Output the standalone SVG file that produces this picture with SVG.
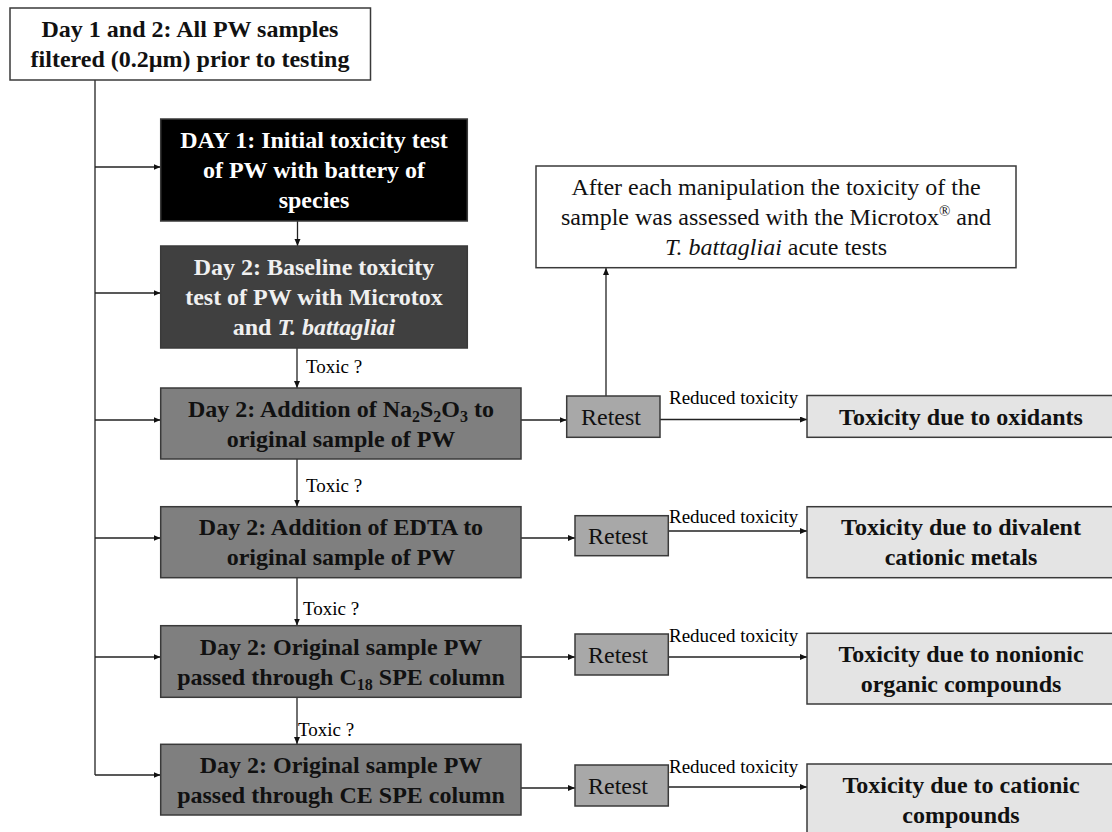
<svg xmlns="http://www.w3.org/2000/svg" width="1112" height="832" viewBox="0 0 1112 832">
  <style>
    text { font-family: "Liberation Serif", "Times New Roman", serif; }
    .b { font-weight: bold; font-size: 24px; text-anchor: middle; }
    .r { font-size: 24px; text-anchor: middle; }
    .lab { font-size: 19px; }
    .box { stroke: #3a3a3a; stroke-width: 1.5; }
    .white { fill: #ffffff; }
    .black { fill: #000000; }
    .dark { fill: #404040; }
    .mid { fill: #7f7f7f; }
    .retest { fill: #a8a8a8; }
    .result { fill: #e4e4e4; }
    .tw { fill: #ffffff; }
    .tl { fill: #f0f0f0; }
    .tk { fill: #111111; }
    .conn path { fill: none; stroke: #222; stroke-width: 1.3; }
  </style>
  <defs>
    <marker id="ah" markerUnits="userSpaceOnUse" markerWidth="8" markerHeight="8" refX="7" refY="3" orient="auto">
      <path d="M0,0 L7,3 L0,6 z" fill="#111"/>
    </marker>
  </defs>
  <rect width="1112" height="832" fill="#ffffff"/>

  <g class="conn">
    <path d="M95,80 V775"/>
    <path d="M95,167 H160.5" marker-end="url(#ah)"/>
    <path d="M95,293 H160.5" marker-end="url(#ah)"/>
    <path d="M95,420 H160.5" marker-end="url(#ah)"/>
    <path d="M95,538 H160.5" marker-end="url(#ah)"/>
    <path d="M95,657 H160.5" marker-end="url(#ah)"/>
    <path d="M95,775 H160.5" marker-end="url(#ah)"/>
    <path d="M297.5,221 V246" marker-end="url(#ah)"/>
    <path d="M297,348 V388" marker-end="url(#ah)"/>
    <path d="M297,459 V506.5" marker-end="url(#ah)"/>
    <path d="M297,577.7 V625.5" marker-end="url(#ah)"/>
    <path d="M297,697.3 V744" marker-end="url(#ah)"/>
    <path d="M521,420 H566.5" marker-end="url(#ah)"/>
    <path d="M521,538 H575" marker-end="url(#ah)"/>
    <path d="M521,657 H575" marker-end="url(#ah)"/>
    <path d="M521,788 H575" marker-end="url(#ah)"/>
    <path d="M660,419.5 H807" marker-end="url(#ah)"/>
    <path d="M668,531 H807" marker-end="url(#ah)"/>
    <path d="M668,657 H807" marker-end="url(#ah)"/>
    <path d="M668,787 H807" marker-end="url(#ah)"/>
    <path d="M606,396 V268" marker-end="url(#ah)"/>
    <text class="lab" x="306" y="373">Toxic ?</text>
    <text class="lab" x="306" y="492">Toxic ?</text>
    <text class="lab" x="303" y="615">Toxic ?</text>
    <text class="lab" x="298" y="736">Toxic ?</text>
    <text class="lab" x="669" y="404">Reduced toxicity</text>
    <text class="lab" x="669" y="523">Reduced toxicity</text>
    <text class="lab" x="669" y="642">Reduced toxicity</text>
    <text class="lab" x="669" y="773">Reduced toxicity</text>
  </g>

  <g id="start">
    <rect class="box white" x="10" y="8" width="360.5" height="72"/>
    <text class="b tk" x="190" y="37">Day 1 and 2: All PW samples</text>
    <text class="b tk" x="190" y="67">filtered (0.2µm) prior to testing</text>
  </g>

  <g id="day1">
    <rect class="box black" x="160.7" y="119" width="306.6" height="102"/>
    <text class="b tw" x="314" y="148">DAY 1: Initial toxicity test</text>
    <text class="b tw" x="314" y="178">of PW with battery of</text>
    <text class="b tw" x="314" y="208">species</text>
  </g>

  <g id="baseline">
    <rect class="box dark" x="160.7" y="246" width="306.6" height="102"/>
    <text class="b tl" x="314" y="275">Day 2: Baseline toxicity</text>
    <text class="b tl" x="314" y="305">test of PW with Microtox</text>
    <text class="b tl" x="314" y="335">and <tspan font-style="italic">T. battagliai</tspan></text>
  </g>

  <g id="na2s2o3">
    <rect class="box mid" x="160.7" y="388" width="360.3" height="71"/>
    <text class="b tk" x="341" y="417">Day 2: Addition of Na<tspan font-size="16" dy="5">2</tspan><tspan dy="-5">S</tspan><tspan font-size="16" dy="5">2</tspan><tspan dy="-5">O</tspan><tspan font-size="16" dy="5">3</tspan><tspan dy="-5"> to</tspan></text>
    <text class="b tk" x="341" y="447">original sample of PW</text>
  </g>

  <g id="edta">
    <rect class="box mid" x="160.7" y="506.7" width="360.3" height="71"/>
    <text class="b tk" x="341" y="535">Day 2: Addition of EDTA to</text>
    <text class="b tk" x="341" y="565">original sample of PW</text>
  </g>

  <g id="c18">
    <rect class="box mid" x="160.7" y="625.7" width="360.3" height="71.6"/>
    <text class="b tk" x="341" y="654.5">Day 2: Original sample PW</text>
    <text class="b tk" x="341" y="684.5">passed through C<tspan font-size="16" dy="5">18</tspan><tspan dy="-5"> SPE column</tspan></text>
  </g>

  <g id="ce">
    <rect class="box mid" x="160.7" y="744.3" width="360.3" height="70.7"/>
    <text class="b tk" x="341" y="773">Day 2: Original sample PW</text>
    <text class="b tk" x="341" y="803">passed through CE SPE column</text>
  </g>

  <g id="note">
    <rect class="box white" x="536" y="166" width="480" height="101.7"/>
    <text class="r tk" x="776" y="195">After each manipulation the toxicity of the</text>
    <text class="r tk" x="776" y="225">sample was assessed with the Microtox<tspan font-size="15" dy="-9">®</tspan><tspan dy="9"> and</tspan></text>
    <text class="r tk" x="776" y="255"><tspan font-style="italic">T. battagliai</tspan> acute tests</text>
  </g>

  <g id="retest1">
    <rect class="box retest" x="566.7" y="396" width="93.3" height="41.3"/>
    <text class="r tk" x="611" y="425">Retest</text>
  </g>
  <g id="retest2">
    <rect class="box retest" x="575" y="515.7" width="93.3" height="40"/>
    <text class="r tk" x="618" y="544">Retest</text>
  </g>
  <g id="retest3">
    <rect class="box retest" x="575" y="634" width="93.3" height="41"/>
    <text class="r tk" x="618" y="663">Retest</text>
  </g>
  <g id="retest4">
    <rect class="box retest" x="575" y="765" width="93.3" height="41"/>
    <text class="r tk" x="618" y="794">Retest</text>
  </g>

  <g id="oxidants">
    <rect class="box result" x="807" y="395.5" width="310" height="41.8"/>
    <text class="b tk" x="961" y="424.5">Toxicity due to oxidants</text>
  </g>
  <g id="metals">
    <rect class="box result" x="807" y="506.7" width="310" height="71"/>
    <text class="b tk" x="961" y="535">Toxicity due to divalent</text>
    <text class="b tk" x="961" y="565">cationic metals</text>
  </g>
  <g id="nonionic">
    <rect class="box result" x="807" y="633.3" width="310" height="70.7"/>
    <text class="b tk" x="961" y="661.7">Toxicity due to nonionic</text>
    <text class="b tk" x="961" y="691.7">organic compounds</text>
  </g>
  <g id="cationic">
    <rect class="box result" x="807" y="764" width="310" height="72"/>
    <text class="b tk" x="961" y="793">Toxicity due to cationic</text>
    <text class="b tk" x="961" y="823">compounds</text>
  </g>
</svg>
